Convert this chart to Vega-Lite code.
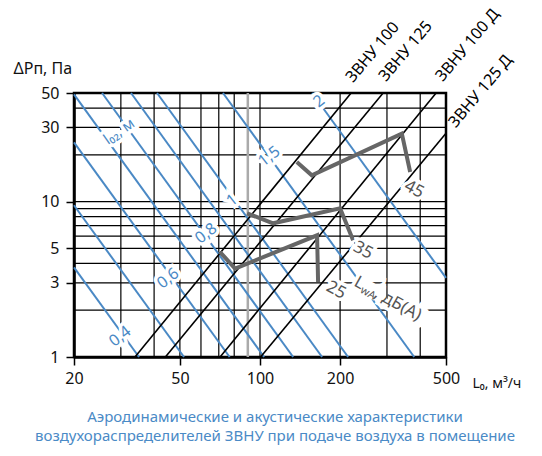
{
  "$schema": "https://vega.github.io/schema/vega-lite/v6.json",
  "width": 372,
  "height": 264,
  "autosize": {"type": "none"},
  "padding": {"left": 74, "top": 93, "right": 96, "bottom": 99},
  "background": "white",
  "config": {"font": "Noto Sans", "view": {"stroke": "#000", "strokeWidth": 2.5}},
  "title": {
    "text": "Аэродинамические и акустические характеристики",
    "subtitle": "воздухораспределителей ЗВНУ при подаче воздуха в помещение",
    "orient": "bottom", "anchor": "middle", "fontSize": 15, "fontWeight": "normal",
    "color": "#4a8ac6", "subtitleColor": "#4a8ac6", "subtitleFontSize": 15, "subtitleFontWeight": "normal",
    "subtitlePadding": 4, "offset": 20, "dx": 15
  },
  "datasets": {
    "hg": [{"p": 2}, {"p": 3}, {"p": 4}, {"p": 5}, {"p": 6}, {"p": 7}, {"p": 8}, {"p": 9}, {"p": 10}, {"p": 20}, {"p": 30}, {"p": 40}],
    "vg": [{"l": 30}, {"l": 40}, {"l": 50}, {"l": 60}, {"l": 70}, {"l": 80}, {"l": 100}, {"l": 200}, {"l": 300}, {"l": 400}],
    "vg90": [{"l": 90}],
    "blue": [
      {"id": "a", "o": 0, "l": 20, "p": 3.777}, {"id": "a", "o": 1, "l": 35.1, "p": 1},
      {"id": "b", "o": 0, "l": 20, "p": 9.47}, {"id": "b", "o": 1, "l": 51.8, "p": 1},
      {"id": "c", "o": 0, "l": 20, "p": 24.07}, {"id": "c", "o": 1, "l": 76.9, "p": 1},
      {"id": "d", "o": 0, "l": 20, "p": 49.0}, {"id": "d", "o": 1, "l": 103.6, "p": 1},
      {"id": "e", "o": 0, "l": 25.5, "p": 50}, {"id": "e", "o": 1, "l": 133.2, "p": 1},
      {"id": "f", "o": 0, "l": 32.76, "p": 50}, {"id": "f", "o": 1, "l": 171.1, "p": 1},
      {"id": "g", "o": 0, "l": 41.03, "p": 50}, {"id": "g", "o": 1, "l": 214.3, "p": 1},
      {"id": "h", "o": 0, "l": 72.6, "p": 50}, {"id": "h", "o": 1, "l": 379.7, "p": 1},
      {"id": "i", "o": 0, "l": 157, "p": 50}, {"id": "i", "o": 1, "l": 500, "p": 3.23}
    ],
    "black": [
      {"id": "ЗВНУ 100", "o": 0, "l": 33.9, "p": 1}, {"id": "ЗВНУ 100", "o": 1, "l": 220, "p": 50},
      {"id": "ЗВНУ 125", "o": 0, "l": 44.1, "p": 1}, {"id": "ЗВНУ 125", "o": 1, "l": 290.2, "p": 50},
      {"id": "ЗВНУ 100 Д", "o": 0, "l": 70.8, "p": 1}, {"id": "ЗВНУ 100 Д", "o": 1, "l": 459, "p": 50},
      {"id": "ЗВНУ 125 Д", "o": 0, "l": 100.5, "p": 1}, {"id": "ЗВНУ 125 Д", "o": 1, "l": 500, "p": 27.5}
    ],
    "gray": [
      {"id": "25", "o": 0, "l": 70.76, "p": 4.74}, {"id": "25", "o": 1, "l": 80.6, "p": 3.71},
      {"id": "25", "o": 2, "l": 163.9, "p": 6.07}, {"id": "25", "o": 3, "l": 165.3, "p": 3.04},
      {"id": "35", "o": 0, "l": 89.4, "p": 8.41}, {"id": "35", "o": 1, "l": 112, "p": 7.25},
      {"id": "35", "o": 2, "l": 200, "p": 9.05}, {"id": "35", "o": 3, "l": 223.8, "p": 5.64},
      {"id": "45", "o": 0, "l": 137.5, "p": 17.98}, {"id": "45", "o": 1, "l": 156.6, "p": 14.77},
      {"id": "45", "o": 2, "l": 341.2, "p": 27.4}, {"id": "45", "o": 3, "l": 366.7, "p": 15.5}
    ],
    "bluelab": [
      {"t": "0,4", "l": 29.78, "p": 1.359},
      {"t": "0,6", "l": 45.13, "p": 3.21},
      {"t": "0,8", "l": 62.7, "p": 6.25},
      {"t": "1", "l": 78.5, "p": 10.19},
      {"t": "1,5", "l": 108.2, "p": 19.56},
      {"t": "2", "l": 166.8, "p": 44.2}
    ],
    "l02": [{"t": "l₀₂, м", "l": 29.5, "p": 28.35}],
    "noiselab": [
      {"t": "25", "l": 193.3, "p": 2.69},
      {"t": "35", "l": 244.1, "p": 4.86},
      {"t": "45", "l": 379.7, "p": 12.0}
    ],
    "lwa": [{"t": "L", "l": 223.8, "p": 2.893}],
    "devlab": [
      {"t": "ЗВНУ 100", "l": 223.5, "p": 57.7},
      {"t": "ЗВНУ 125", "l": 297.5, "p": 58.6},
      {"t": "ЗВНУ 100 Д", "l": 486, "p": 58.6},
      {"t": "ЗВНУ 125 Д", "l": 544, "p": 29.6}
    ]
  },
  "layer": [
    {
      "data": {"name": "hg"},
      "mark": {"type": "rule", "color": "#000", "strokeWidth": 1.2},
      "encoding": {
        "y": {
          "field": "p", "type": "quantitative",
          "scale": {"type": "log", "domain": [1, 50], "nice": false},
          "axis": {
            "values": [1, 3, 5, 10, 30, 50], "format": "d", "grid": false, "labelFlush": false,
            "domainColor": "#000", "domainWidth": 2.5, "tickColor": "#000", "tickWidth": 1.5, "tickSize": 8,
            "labelFontSize": 16, "labelColor": "#111", "labelPadding": 7,
            "title": "ΔPп, Па", "titleAngle": 0, "titleFontSize": 16, "titleFontWeight": "normal", "titleColor": "#111",
            "titleAlign": "left", "titleBaseline": "alphabetic", "titleX": -61, "titleY": -20
          }
        }
      }
    },
    {
      "data": {"name": "vg"},
      "mark": {"type": "rule", "color": "#000", "strokeWidth": 1.2},
      "encoding": {
        "x": {
          "field": "l", "type": "quantitative",
          "scale": {"type": "log", "domain": [20, 500], "nice": false},
          "axis": {
            "values": [20, 50, 100, 200, 500], "format": "d", "grid": false, "labelFlush": false,
            "domainColor": "#000", "domainWidth": 2.5, "tickColor": "#000", "tickWidth": 1.5, "tickSize": 8,
            "labelFontSize": 16, "labelColor": "#111", "labelPadding": 5,
            "title": "L₀, м³/ч", "titleFontSize": 14, "titleFontWeight": "normal", "titleColor": "#111",
            "titleAlign": "left", "titleBaseline": "alphabetic", "titleX": 398, "titleY": 30
          }
        }
      }
    },
    {
      "data": {"name": "vg90"},
      "mark": {"type": "rule", "color": "#aaaaaa", "strokeWidth": 2.5},
      "encoding": {"x": {"field": "l", "type": "quantitative"}}
    },
    {
      "data": {"name": "blue"},
      "mark": {"type": "line", "color": "#4a89c5", "strokeWidth": 2},
      "encoding": {
        "x": {"field": "l", "type": "quantitative"},
        "y": {"field": "p", "type": "quantitative"},
        "detail": {"field": "id"},
        "order": {"field": "o"}
      }
    },
    {
      "data": {"name": "black"},
      "mark": {"type": "line", "color": "#000", "strokeWidth": 1.6},
      "encoding": {
        "x": {"field": "l", "type": "quantitative"},
        "y": {"field": "p", "type": "quantitative"},
        "detail": {"field": "id"},
        "order": {"field": "o"}
      }
    },
    {
      "data": {"name": "gray"},
      "mark": {"type": "line", "color": "#666666", "strokeWidth": 4},
      "encoding": {
        "x": {"field": "l", "type": "quantitative"},
        "y": {"field": "p", "type": "quantitative"},
        "detail": {"field": "id"},
        "order": {"field": "o"}
      }
    },
    {
      "data": {"name": "bluelab"},
      "mark": {"type": "text", "angle": -38, "fontSize": 16, "fill": "white", "stroke": "white", "strokeWidth": 7, "align": "center", "baseline": "middle"},
      "encoding": {"x": {"field": "l", "type": "quantitative"}, "y": {"field": "p", "type": "quantitative"}, "text": {"field": "t"}}
    },
    {
      "data": {"name": "bluelab"},
      "mark": {"type": "text", "angle": -38, "fontSize": 16, "color": "#4a89c5", "align": "center", "baseline": "middle"},
      "encoding": {"x": {"field": "l", "type": "quantitative"}, "y": {"field": "p", "type": "quantitative"}, "text": {"field": "t"}}
    },
    {
      "data": {"name": "l02"},
      "mark": {"type": "text", "angle": -35, "fontSize": 15, "fill": "white", "stroke": "white", "strokeWidth": 7, "align": "center", "baseline": "middle"},
      "encoding": {"x": {"field": "l", "type": "quantitative"}, "y": {"field": "p", "type": "quantitative"}, "text": {"field": "t"}}
    },
    {
      "data": {"name": "l02"},
      "mark": {"type": "text", "angle": -35, "fontSize": 15, "color": "#4a89c5", "align": "center", "baseline": "middle"},
      "encoding": {"x": {"field": "l", "type": "quantitative"}, "y": {"field": "p", "type": "quantitative"}, "text": {"field": "t"}}
    },
    {
      "data": {"name": "noiselab"},
      "mark": {"type": "text", "angle": 28, "fontSize": 17, "fill": "white", "stroke": "white", "strokeWidth": 7, "align": "center", "baseline": "middle"},
      "encoding": {"x": {"field": "l", "type": "quantitative"}, "y": {"field": "p", "type": "quantitative"}, "text": {"field": "t"}}
    },
    {
      "data": {"name": "noiselab"},
      "mark": {"type": "text", "angle": 28, "fontSize": 17, "color": "#555555", "align": "center", "baseline": "middle"},
      "encoding": {"x": {"field": "l", "type": "quantitative"}, "y": {"field": "p", "type": "quantitative"}, "text": {"field": "t"}}
    },
    {
      "data": {"name": "lwa"},
      "mark": {"type": "text", "angle": 29, "fontSize": 16, "fill": "white", "stroke": "white", "strokeWidth": 7, "align": "left", "baseline": "alphabetic", "text": "LwA, дБ(А)"},
      "encoding": {"x": {"field": "l", "type": "quantitative"}, "y": {"field": "p", "type": "quantitative"}}
    },
    {
      "data": {"name": "lwa"},
      "mark": {"type": "text", "angle": 29, "fontSize": 17, "color": "#555555", "align": "left", "baseline": "alphabetic", "text": "L"},
      "encoding": {"x": {"field": "l", "type": "quantitative"}, "y": {"field": "p", "type": "quantitative"}}
    },
    {
      "data": {"name": "lwa"},
      "mark": {"type": "text", "angle": 29, "fontSize": 11, "color": "#555555", "align": "left", "baseline": "alphabetic", "text": "wA", "dx": 9, "dy": 3},
      "encoding": {"x": {"field": "l", "type": "quantitative"}, "y": {"field": "p", "type": "quantitative"}}
    },
    {
      "data": {"name": "lwa"},
      "mark": {"type": "text", "angle": 29, "fontSize": 17, "color": "#555555", "align": "left", "baseline": "alphabetic", "text": ", дБ(А)", "dx": 23},
      "encoding": {"x": {"field": "l", "type": "quantitative"}, "y": {"field": "p", "type": "quantitative"}}
    },
    {
      "data": {"name": "devlab"},
      "mark": {"type": "text", "angle": -50, "fontSize": 16, "color": "#000", "align": "left", "baseline": "alphabetic"},
      "encoding": {"x": {"field": "l", "type": "quantitative"}, "y": {"field": "p", "type": "quantitative"}, "text": {"field": "t"}}
    }
  ]
}
